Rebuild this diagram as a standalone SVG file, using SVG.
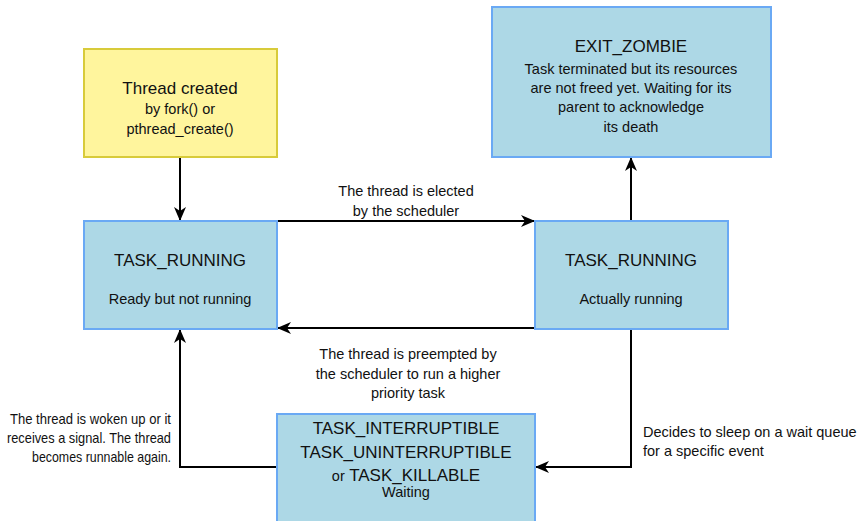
<svg xmlns="http://www.w3.org/2000/svg" width="862" height="521" viewBox="0 0 862 521">
<defs>
<marker id="arr" viewBox="0 0 14 12" refX="13" refY="6" markerWidth="14" markerHeight="12" markerUnits="userSpaceOnUse" orient="auto">
<path d="M0,0 L14,6 L0,12 L4,6 Z" fill="#000"/>
</marker>
</defs>
<style>
.state{fill:#add8e6;stroke:#6aa9f4;stroke-width:2}
.start{fill:#fff59d;stroke:#d8cb3a;stroke-width:2}
text{font-family:"Liberation Sans",Arial,sans-serif;fill:#111}
.t{font-size:17px;text-anchor:middle}
.s{font-size:14.5px;text-anchor:middle}
.e{font-size:14.5px}
.c{stroke:#000;stroke-width:2;fill:none;marker-end:url(#arr)}
</style>
<rect width="862" height="521" fill="#fff"/>
<g id="connectors">
<path class="c" d="M180,157 L180,220"/>
<path class="c" d="M277,221 L534,221"/>
<path class="c" d="M535,328 L278,328"/>
<path class="c" d="M631,221 L631,158"/>
<path class="c" d="M631,329 L631,467 L536,467"/>
<path class="c" d="M277,467 L180,467 L180,330"/>
<text class="e" text-anchor="middle" x="406" y="196">The thread is elected</text>
<text class="e" text-anchor="middle" x="406" y="216">by the scheduler</text>
<text class="e" text-anchor="middle" x="408" y="359">The thread is preempted by</text>
<text class="e" text-anchor="middle" x="408" y="379">the scheduler to run a higher</text>
<text class="e" text-anchor="middle" x="408" y="398">priority task</text>
<text class="e" font-size="13.5px" text-anchor="end" x="171" y="424" textLength="161" lengthAdjust="spacingAndGlyphs">The thread is woken up or it</text>
<text class="e" font-size="13.5px" text-anchor="end" x="171" y="443" textLength="164" lengthAdjust="spacingAndGlyphs">receives a signal. The thread</text>
<text class="e" font-size="13.5px" text-anchor="end" x="171" y="462" textLength="139" lengthAdjust="spacingAndGlyphs">becomes runnable again.</text>
<text class="e" x="643" y="437">Decides to sleep on a wait queue</text>
<text class="e" x="643" y="456">for a specific event</text>
</g>
<g id="created">
<rect class="start" x="84" y="49" width="193" height="108"/>
<text class="t" x="180" y="94">Thread created</text>
<text class="s" x="180" y="114">by fork() or</text>
<text class="s" x="180" y="134">pthread_create()</text>
</g>
<g id="zombie">
<rect class="state" x="492" y="7" width="279" height="150"/>
<text class="t" x="631" y="52">EXIT_ZOMBIE</text>
<text class="s" x="631" y="74">Task terminated but its resources</text>
<text class="s" x="631" y="93">are not freed yet. Waiting for its</text>
<text class="s" x="631" y="112">parent to acknowledge</text>
<text class="s" x="631" y="132">its death</text>
</g>
<g id="ready">
<rect class="state" x="84" y="221" width="193" height="108"/>
<text class="t" x="180" y="266">TASK_RUNNING</text>
<text class="s" x="180" y="304">Ready but not running</text>
</g>
<g id="running">
<rect class="state" x="535" y="221" width="193" height="108"/>
<text class="t" x="631" y="266">TASK_RUNNING</text>
<text class="s" x="631" y="304">Actually running</text>
</g>
<g id="waiting">
<rect class="state" x="277" y="414" width="258" height="110"/>
<text class="t" font-size="17.5px" x="406" y="434">TASK_INTERRUPTIBLE</text>
<text class="t" font-size="17.5px" x="406" y="458">TASK_UNINTERRUPTIBLE</text>
<text class="t" font-size="17.5px" x="406" y="481"><tspan font-size="14.5px">or</tspan> TASK_KILLABLE</text>
<text class="s" x="406" y="497">Waiting</text>
</g>
</svg>
